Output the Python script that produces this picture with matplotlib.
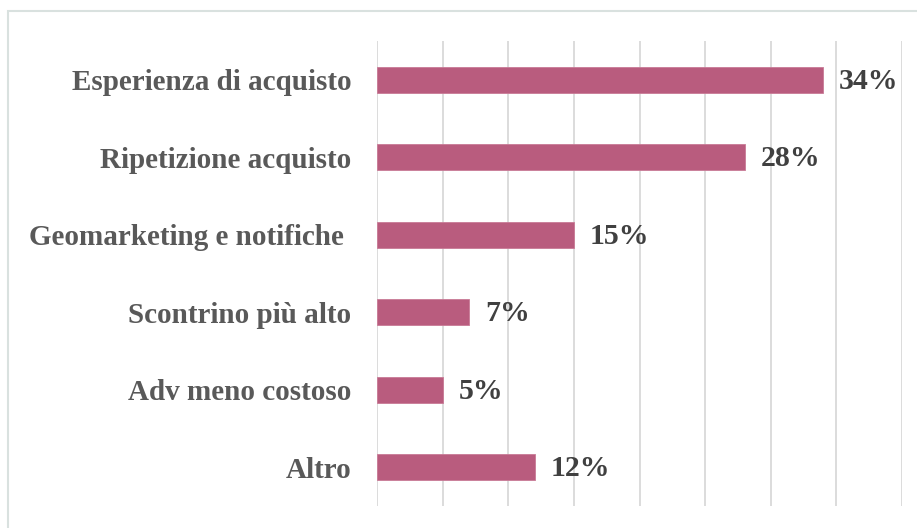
import matplotlib
matplotlib.use("Agg")
import matplotlib.pyplot as plt
from matplotlib.patches import Rectangle

CATEGORIES = [
    "Esperienza di acquisto",
    "Ripetizione acquisto",
    "Geomarketing e notifiche ",
    "Scontrino più alto",
    "Adv meno costoso",
    "Altro",
]
VALUES = [34, 28, 15, 7, 5, 12]
XTICKS = list(range(0, 45, 5))

BAR = "#B95C7E"
GRID = "#D9D9D9"
LABEL = "#595959"
VALUE = "#404040"
FRAME = "#D9E1DF"

fig = plt.figure(figsize=(9.17, 5.28), dpi=100)
fig.patch.set_facecolor("white")
fig.patches.append(Rectangle((8 / 917, -0.05), 1.0, 1 - 11 / 528 + 0.05,
                             transform=fig.transFigure, fill=False,
                             edgecolor=FRAME, lw=1.5))

ax = fig.add_axes([377 / 917, 22 / 528, (902 - 377) / 917, (506 - 41) / 528])
ypos = list(range(len(CATEGORIES)))
ax.barh(ypos, VALUES, height=0.34, color=BAR, edgecolor="#C97A96", lw=0.6,
        zorder=3)

ax.set_xlim(0, 40)
ax.set_ylim(len(CATEGORIES) - 0.5, -0.5)
ax.set_xticks(XTICKS)
ax.set_xticklabels([])
ax.grid(axis="x", color=GRID, lw=1.3, zorder=0)
ax.tick_params(length=0)
for s in ax.spines.values():
    s.set_visible(False)

ax.set_yticks(ypos)
ax.set_yticklabels(CATEGORIES, family="Liberation Serif", fontweight="bold",
                   fontsize=21, color=LABEL)
ax.tick_params(axis="y", pad=18.5)

for y, v in zip(ypos, VALUES):
    ax.annotate("%d%%" % v, (v, y), xytext=(11.5, -1), textcoords="offset points",
                ha="left", va="center", family="Liberation Serif",
                fontweight="bold", fontsize=21.5, color=VALUE)

fig.savefig("out.png", dpi=100, facecolor="white")
